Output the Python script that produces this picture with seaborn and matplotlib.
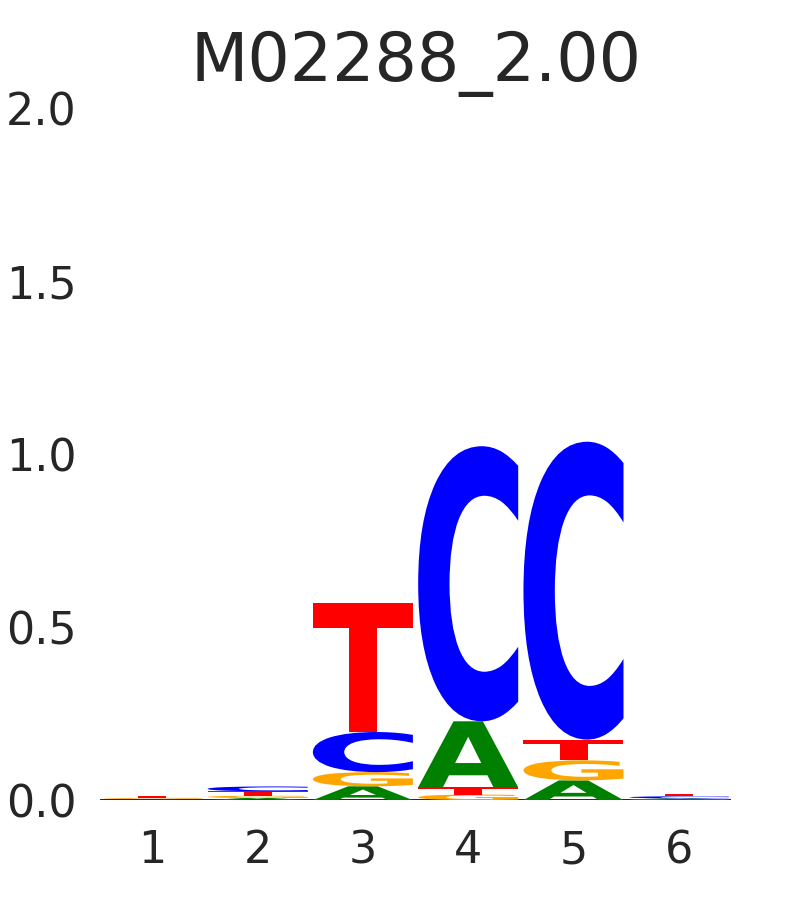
import matplotlib
matplotlib.use("Agg")
import matplotlib.pyplot as plt
import numpy as np
import seaborn as sns
from matplotlib.font_manager import FontProperties
from matplotlib.patches import PathPatch
from matplotlib.textpath import TextPath
from matplotlib.transforms import Affine2D

title = "M02288_2.00"
positions = [1, 2, 3, 4, 5, 6]
# information content (bits) per letter at each position
a_vals = [0.0015, 0.006, 0.040, 0.191, 0.057, 0.003]
c_vals = [0.002, 0.014, 0.116, 0.796, 0.862, 0.006]
g_vals = [0.003, 0.0065, 0.041, 0.016, 0.058, 0.002]
t_vals = [0.006, 0.013, 0.374, 0.021, 0.060, 0.007]

letter_colors = {"A": "green", "C": "blue", "G": "orange", "T": "red"}
y_ticks = [0.0, 0.5, 1.0, 1.5, 2.0]

font = FontProperties(family="DejaVu Sans", weight="bold")


def draw_letter(ax, letter, x, y0, height, width=0.95):
    if height <= 0:
        return
    path = TextPath((0, 0), letter, size=1, prop=font)
    ext = path.get_extents()
    t = (Affine2D()
         .translate(-ext.x0, -ext.y0)
         .scale(width / ext.width, height / ext.height)
         .translate(x - width / 2, y0))
    ax.add_patch(PathPatch(t.transform_path(path), facecolor=letter_colors[letter],
                           edgecolor="none", zorder=3))


sns.set_style("white")
fig = plt.figure(figsize=(8.1, 9), dpi=100)
ax = fig.add_axes([0.123, 0.111, 0.78, 0.768])

for i, pos in enumerate(positions):
    stack = [("A", a_vals[i]), ("C", c_vals[i]), ("G", g_vals[i]), ("T", t_vals[i])]
    stack.sort(key=lambda s: s[1])
    y = 0.0
    for letter, h in stack:
        draw_letter(ax, letter, pos, y, h)
        y += h

ax.axhline(0, color="black", lw=1.2, zorder=2)
ax.set_xlim(0.5, 6.5)
ax.set_ylim(0, 2.0)
ax.set_xticks(positions)
ax.set_yticks(y_ticks)
ax.set_yticklabels([f"{v:.1f}" for v in y_ticks])
ax.tick_params(axis="both", labelsize=32, length=0)
ax.tick_params(axis="y", pad=16.5)
ax.tick_params(axis="x", pad=21)
sns.despine(ax=ax, left=True, bottom=True)
ax.set_title(title, fontsize=48, pad=20)

fig.savefig("out.png", dpi=100)
